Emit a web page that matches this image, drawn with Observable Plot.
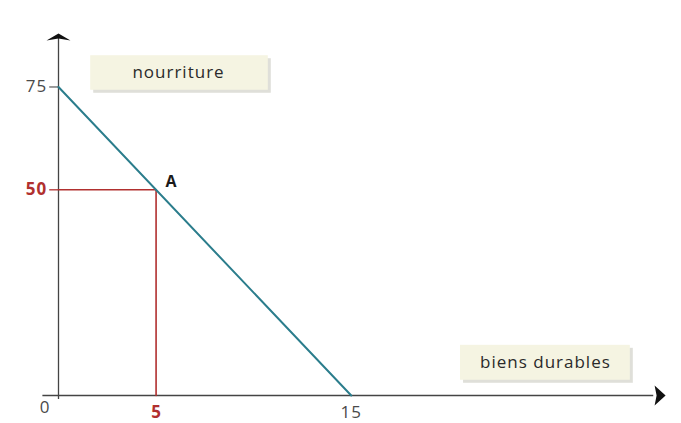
<!DOCTYPE html>
<html><head><meta charset="utf-8">
<script src="https://cdn.jsdelivr.net/npm/d3@7"></script>
<script src="https://cdn.jsdelivr.net/npm/@observablehq/plot@0.6"></script>
<style>body{margin:0;background:#fff;} svg{display:block;}</style>
</head><body><div id="chart"></div>
<script>
// Budget line: nourriture (y) vs biens durables (x)
const budgetX = [0, 15];
const budgetY = [75, 0];
// Point A
const pointA = {x: 5, y: 50, label: "A"};
// Tick labels
const xTicks = [{v: 0, label: "0", red: false}, {v: 5, label: "5", red: true}, {v: 15, label: "15", red: false}];
const yTicks = [{v: 75, label: "75", red: false}, {v: 50, label: "50", red: true}];
// Axis label boxes (data coordinates)
const axisLabels = [
  {text: "nourriture", x1: 1.65, x2: 10.75, y1: 74.2, y2: 82.6, cx: 6.15, cy: 78.4},
  {text: "biens durables", x1: 20.6, x2: 29.3, y1: 3.7, y2: 12.2, cx: 24.95, cy: 8.0}
];

const budget = budgetX.map((x, i) => ({x, y: budgetY[i]}));
const redPath = [{x: 0, y: pointA.y}, {x: pointA.x, y: pointA.y}, {x: pointA.x, y: 0}];
const teal = "#2b7d8c", red = "#b1302f", grey = "#4a4a4a";
const font = "'Open Sans', sans-serif";

// custom arrowhead shapes
const arrowUp = {draw(ctx) { ctx.moveTo(-12, 4); ctx.lineTo(0, -3); ctx.lineTo(12, 4); ctx.lineTo(0, 2); ctx.closePath(); }};
const arrowRight = {draw(ctx) { ctx.moveTo(-5, -10); ctx.lineTo(6, 0); ctx.lineTo(-5, 10); ctx.lineTo(-3, 0); ctx.closePath(); }};

const yRed = yTicks.filter(d => d.red), yGrey = yTicks.filter(d => !d.red);
const xRed = xTicks.filter(d => d.red), xGrey = xTicks.filter(d => !d.red && d.v !== 0), xZero = xTicks.filter(d => d.v === 0);

const chart = Plot.plot({
  width: 681, height: 423,
  marginLeft: 58, marginRight: 18, marginTop: 33, marginBottom: 28,
  x: {type: "linear", domain: [0, 31], axis: null},
  y: {type: "linear", domain: [0, 88], axis: null},
  style: {fontFamily: font, background: "#fff"},
  marks: [
    // label boxes with shadow
    Plot.rect(axisLabels, {x1: "x1", x2: "x2", y1: "y1", y2: "y2", fill: "#c9c9c0", dx: 3, dy: 3, fillOpacity: 0.6}),
    Plot.rect(axisLabels, {x1: "x1", x2: "x2", y1: "y1", y2: "y2", fill: "#f5f4e2"}),
    Plot.text(axisLabels, {x: "cx", y: "cy", text: "text", fontSize: 17, fill: "#2a2a2a", className: "wide"}),
    // axes
    Plot.ruleY([0], {x1: () => -0.8, x2: () => 30.5, stroke: "#444", strokeWidth: 1.3}),
    Plot.ruleX([0], {y1: () => -1, y2: () => 87, stroke: "#444", strokeWidth: 1.3}),
    Plot.dot([{x: 30.8, y: 0}], {x: "x", y: "y", symbol: arrowRight, r: 7, fill: "#111", stroke: "none"}),
    Plot.dot([{x: 0, y: 87.3}], {x: "x", y: "y", symbol: arrowUp, r: 7, fill: "#111", stroke: "none"}),
    // y tick marks
    Plot.ruleY(yGrey, {y: "v", x1: () => -0.45, x2: () => 0, stroke: "#666", strokeWidth: 1.3}),
    Plot.ruleY(yRed, {y: "v", x1: () => -0.45, x2: () => 0, stroke: red, strokeWidth: 1.3}),
    // red guide lines
    Plot.line(redPath, {x: "x", y: "y", stroke: red, strokeWidth: 1.6}),
    // budget line
    Plot.line(budget, {x: "x", y: "y", stroke: teal, strokeWidth: 2}),
    // point label
    Plot.text([pointA], {x: "x", y: "y", text: "label", dx: 15, dy: -8, fontWeight: "bold", fontSize: 16, fill: "#1a1a1a"}),
    // tick labels
    Plot.text(yGrey, {y: "v", x: () => 0, text: "label", dx: -22, fontSize: 17, fill: grey, className: "wide"}),
    Plot.text(yRed, {y: "v", x: () => 0, text: "label", dx: -22, fontSize: 17, fill: red, fontWeight: "bold", className: "wide"}),
    Plot.text(xGrey, {x: "v", y: () => 0, text: "label", dy: 17, fontSize: 17, fill: grey, className: "wide"}),
    Plot.text(xRed, {x: "v", y: () => 0, text: "label", dy: 17, fontSize: 17, fill: red, fontWeight: "bold"}),
    Plot.text(xZero, {x: "v", y: () => 0, text: "label", dx: -14, dy: 12, fontSize: 17, fill: grey})
  ]
});
d3.select(chart).selectAll("g.wide text").attr("letter-spacing", "1");
document.getElementById("chart").append(chart);
</script></body></html>
